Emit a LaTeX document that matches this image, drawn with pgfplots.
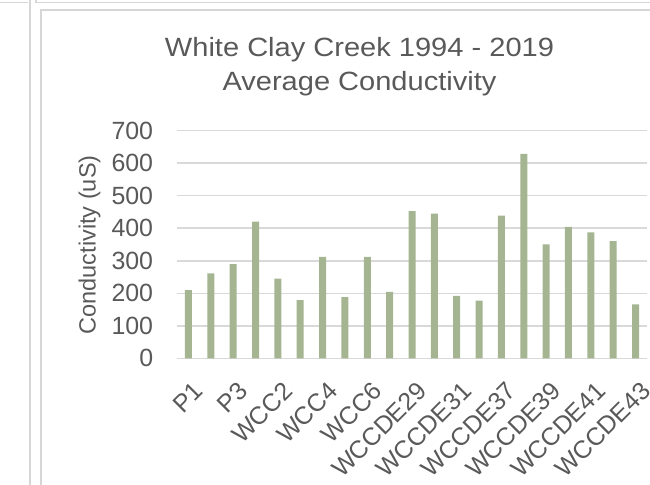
\documentclass[border=0pt]{standalone}
\usepackage{pgfplots}
\pgfplotsset{compat=1.18}
\usepackage{graphicx}
\usepackage{fontspec}
\setmainfont{Liberation Sans}
\definecolor{txt}{RGB}{89,89,89}
\definecolor{gridc}{RGB}{217,217,217}
\definecolor{framec}{RGB}{214,214,214}
\definecolor{barc}{RGB}{165,181,146}
\begin{document}
\begin{tikzpicture}[x=1bp,y=1bp]
\useasboundingbox (0,0) rectangle (650,485);
% panel frames of the screenshot
\draw[framec, line width=1.6bp] (0,482.5) -- (27.5,482.5);
\draw[framec, line width=1.6bp] (30,485) -- (30,0);
\draw[framec, line width=1.6bp] (36,485) -- (36,482.5) -- (650,482.5);
\draw[framec, line width=1.6bp] (40.7,0) -- (40.7,475) -- (650,475);
% title
\node[anchor=base, text=txt, font=\fontsize{26.5}{30}\selectfont] at (359.5,428.3) {\scalebox{1.1}[1]{White Clay Creek 1994 - 2019}};
\node[anchor=base, text=txt, font=\fontsize{26.5}{30}\selectfont] at (359.5,394.3) {\scalebox{1.1}[1]{Average Conductivity}};
\begin{axis}[
  at={(177.3bp,126.7bp)}, anchor=south west,
  scale only axis, width=469.4bp, height=227.6bp,
  ybar, bar width=7bp,
  xmin=0.5, xmax=21.5, ymin=0, ymax=700,
  ytick={0,100,...,700},
  xtick={1,3,...,21},
  xticklabels={P1,P3,WCC2,WCC4,WCC6,WCCDE29,WCCDE31,WCCDE37,WCCDE39,WCCDE41,WCCDE43},
  axis line style={draw=none},
  major tick length=0pt,
  ymajorgrids, grid style={gridc, line width=1.5bp},
  /pgf/number format/assume math mode=true,
  yticklabel={\fontsize{25}{30}\selectfont\pgfmathprintnumber{\tick}},
  yticklabel style={anchor=east, inner sep=0pt, xshift=-24bp, text=txt, font=\fontsize{25}{30}\selectfont},
  xticklabel style={xshift=4bp, yshift=-22bp, rotate=45, anchor=north east, inner sep=0pt, text=txt, font=\fontsize{25}{30}\selectfont},
  ylabel={Conductivity (uS)},
  ylabel style={at={(axis description cs:-0.187,0.498)}, anchor=center, text=txt, font=\fontsize{23.6}{28}\selectfont},
  clip=false,
]
\addplot[fill=barc, draw=none] coordinates {
(1,210) (2,261) (3,290) (4,420) (5,245) (6,179) (7,312) (8,188) (9,312) (10,204)
(11,453) (12,445) (13,192) (14,177) (15,439) (16,629) (17,350) (18,404) (19,387) (20,360) (21,166)
};
\end{axis}
\end{tikzpicture}
\end{document}
